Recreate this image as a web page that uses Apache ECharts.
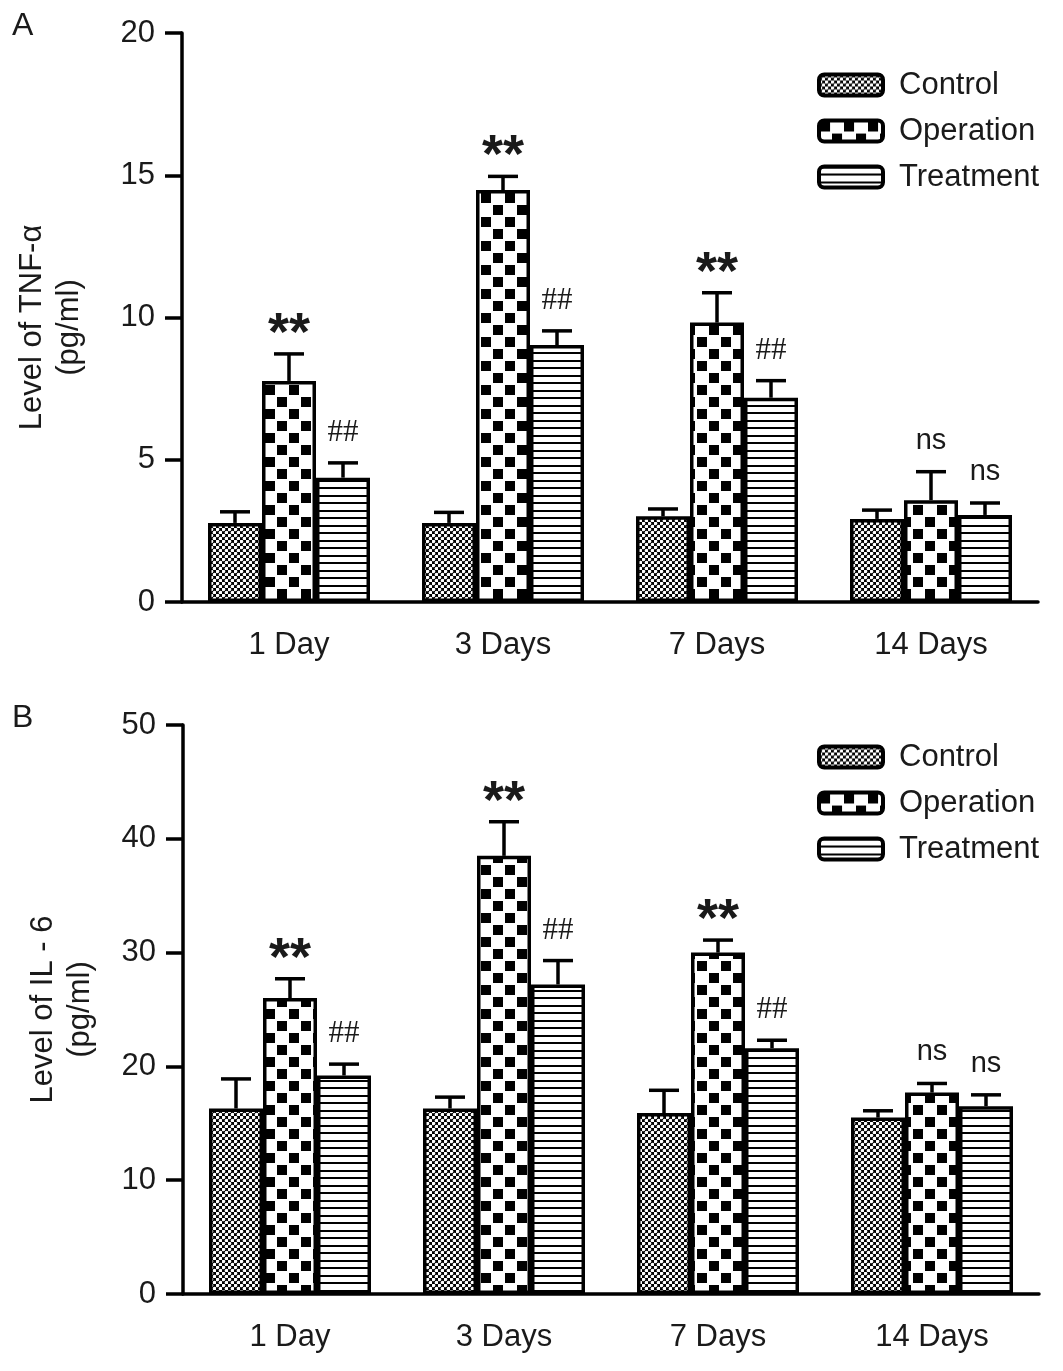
<!DOCTYPE html>
<html><head><meta charset="utf-8">
<script src="https://cdn.jsdelivr.net/npm/echarts@6/dist/echarts.min.js"></script>
<style>html,body{margin:0;padding:0;background:#fff}#c{width:1063px;height:1371px}</style>
</head><body><div id="c"></div>
<script>
// ---------- data ----------
const categories = ['1 Day', '3 Days', '7 Days', '14 Days'];
const groupNames = ['Control', 'Operation', 'Treatment'];

const tnfControl      = [2.78, 2.78, 3.01, 2.92];
const tnfControlErr   = [0.39, 0.37, 0.26, 0.31];
const tnfOperation    = [7.77, 14.48, 9.82, 3.58];
const tnfOperationErr = [0.95, 0.48, 1.05, 1.00];
const tnfTreatment    = [4.37, 9.03, 7.18, 3.06];
const tnfTreatmentErr = [0.52, 0.50, 0.60, 0.42];

const il6Control      = [16.3, 16.3, 15.9, 15.5];
const il6ControlErr   = [2.6, 1.0, 2.0, 0.6];
const il6Operation    = [26.0, 38.5, 30.0, 17.7];
const il6OperationErr = [1.7, 3.0, 1.1, 0.8];
const il6Treatment    = [19.2, 27.2, 21.6, 16.5];
const il6TreatmentErr = [1.0, 2.1, 0.7, 1.0];

const operationMarks = ['**', '**', '**', 'ns'];
const treatmentMarks = ['##', '##', '##', 'ns'];

const tnfAxisRange = [0, 20, 5];   // min, max, interval
const il6AxisRange = [0, 50, 10];
const tnfTitle = 'Level of TNF-α\n(pg/ml)';
const il6Title = 'Level of IL - 6\n(pg/ml)';

// ---------- styles ----------
const FONT = 'Liberation Sans, Arial, sans-serif';
const TXT = '#1a1a1a';
const BAR_W = 54;
const LW = 3.5;

function makeTile(w, h, draw) {
  const c = document.createElement('canvas');
  c.width = w; c.height = h;
  const g = c.getContext('2d');
  draw(g, w, h);
  return c;
}
const controlTile = makeTile(6, 6, (g) => {
  g.fillStyle = '#000'; g.fillRect(0, 0, 6, 6);
  g.fillStyle = '#fff';
  g.beginPath(); g.arc(1.5, 1.5, 1.8, 0, Math.PI * 2); g.fill();
  g.beginPath(); g.arc(4.5, 4.5, 1.8, 0, Math.PI * 2); g.fill();
});
const operationTile = makeTile(24, 24, (g) => {
  g.fillStyle = '#fff'; g.fillRect(0, 0, 24, 24);
  g.fillStyle = '#000';
  g.fillRect(1, 1, 10, 10); g.fillRect(13, 13, 10, 10);
});
const treatmentTile = makeTile(4, 15, (g) => {
  g.fillStyle = '#fff'; g.fillRect(0, 0, 4, 15);
  g.fillStyle = '#000';
  g.fillRect(0, 0, 4, 2); g.fillRect(0, 7, 4, 2);
});
const tiles = [controlTile, operationTile, treatmentTile];

function barSeries(name, data, gi, ai) {
  return {
    type: 'bar', name: name, data: data,
    xAxisIndex: ai, yAxisIndex: ai,
    barWidth: BAR_W, barGap: '0%',
    itemStyle: { color: { image: tiles[gi], repeat: 'repeat' }, borderColor: '#000', borderWidth: LW },
    silent: true, z: 2
  };
}

function markStyle(mark) {
  if (mark === '**') return { font: 'bold 54px ' + FONT, dy: 19 };
  if (mark === '##') return { font: '31px Liberation Serif, Times New Roman, serif', dy: 30 };
  return { font: '29px ' + FONT, dy: 31 };
}

function errSeries(means, errs, marks, gi, ai) {
  return {
    type: 'custom', name: 'err' + ai + '_' + gi,
    xAxisIndex: ai, yAxisIndex: ai, silent: true, z: 5,
    data: means.map((m, i) => [i, m, errs[i]]),
    encode: { x: 0, y: 1 },
    renderItem: function (params, api) {
      const cat = api.value(0), m = api.value(1), e = api.value(2);
      const base = api.coord([cat, m]);
      const top = api.coord([cat, m + e]);
      const x = base[0] + (gi - 1) * BAR_W;
      const children = [
        { type: 'line', shape: { x1: x, y1: base[1], x2: x, y2: top[1] }, style: { stroke: '#000', lineWidth: LW } },
        { type: 'line', shape: { x1: x - 15, y1: top[1], x2: x + 15, y2: top[1] }, style: { stroke: '#000', lineWidth: LW } }
      ];
      const mark = marks ? marks[params.dataIndex] : null;
      if (mark) {
        const ms = markStyle(mark);
        children.push({
          type: 'text',
          style: { text: mark, x: x, y: top[1] - ms.dy, font: ms.font, fill: TXT, align: 'center', verticalAlign: 'middle' }
        });
      }
      return { type: 'group', children: children };
    }
  };
}

function xAxisCfg(gi) {
  return {
    gridIndex: gi, type: 'category', data: categories,
    axisLine: { lineStyle: { color: '#000', width: LW } },
    axisTick: { alignWithLabel: true, length: 17, lineStyle: { color: '#000', width: LW } },
    axisLabel: { color: TXT, fontSize: 31, fontFamily: FONT, margin: 28 }
  };
}
function yAxisCfg(gi, range, title, gap, pad) {
  return {
    gridIndex: gi, type: 'value', min: range[0], max: range[1], interval: range[2],
    splitLine: { show: false },
    axisLine: { show: true, lineStyle: { color: '#000', width: LW } },
    axisTick: { show: true, length: 17, lineStyle: { color: '#000', width: LW } },
    axisLabel: { color: TXT, fontSize: 31, fontFamily: FONT, margin: 27 },
    name: title, nameLocation: 'middle', nameRotate: 90, nameGap: gap,
    nameTextStyle: { color: TXT, fontSize: 31, fontFamily: FONT, lineHeight: 37, padding: pad }
  };
}
function legendCfg(top) {
  return {
    data: groupNames, orient: 'vertical', left: 812, top: top,
    itemWidth: 64, itemHeight: 21, itemGap: 10, selectedMode: false,
    itemStyle: { borderColor: '#000', borderWidth: 4 },
    textStyle: { color: TXT, fontSize: 31, fontFamily: FONT, lineHeight: 36, padding: [0, 0, 0, 11] }
  };
}

const chart = echarts.init(document.getElementById('c'), null, { renderer: 'canvas' });
chart.setOption({
  animation: false,
  backgroundColor: '#fff',
  grid: [
    { left: 182, top: 33, width: 856, height: 569 },
    { left: 183, top: 725, width: 856, height: 569 }
  ],
  xAxis: [xAxisCfg(0), xAxisCfg(1)],
  yAxis: [yAxisCfg(0, tnfAxisRange, tnfTitle, 94, [0, 20, 0, 0]), yAxisCfg(1, il6AxisRange, il6Title, 84, [0, 0, 0, 0])],
  legend: [legendCfg(62), legendCfg(734)],
  graphic: [
    { type: 'text', left: 12, top: 10, style: { text: 'A', font: '32px Liberation Sans', fill: TXT } },
    { type: 'text', left: 12, top: 702, style: { text: 'B', font: '32px Liberation Sans', fill: TXT } }
  ],
  series: [
    barSeries('Control', tnfControl, 0, 0),
    barSeries('Operation', tnfOperation, 1, 0),
    barSeries('Treatment', tnfTreatment, 2, 0),
    errSeries(tnfControl, tnfControlErr, null, 0, 0),
    errSeries(tnfOperation, tnfOperationErr, operationMarks, 1, 0),
    errSeries(tnfTreatment, tnfTreatmentErr, treatmentMarks, 2, 0),
    barSeries('Control', il6Control, 0, 1),
    barSeries('Operation', il6Operation, 1, 1),
    barSeries('Treatment', il6Treatment, 2, 1),
    errSeries(il6Control, il6ControlErr, null, 0, 1),
    errSeries(il6Operation, il6OperationErr, operationMarks, 1, 1),
    errSeries(il6Treatment, il6TreatmentErr, treatmentMarks, 2, 1)
  ]
});
</script></body></html>
